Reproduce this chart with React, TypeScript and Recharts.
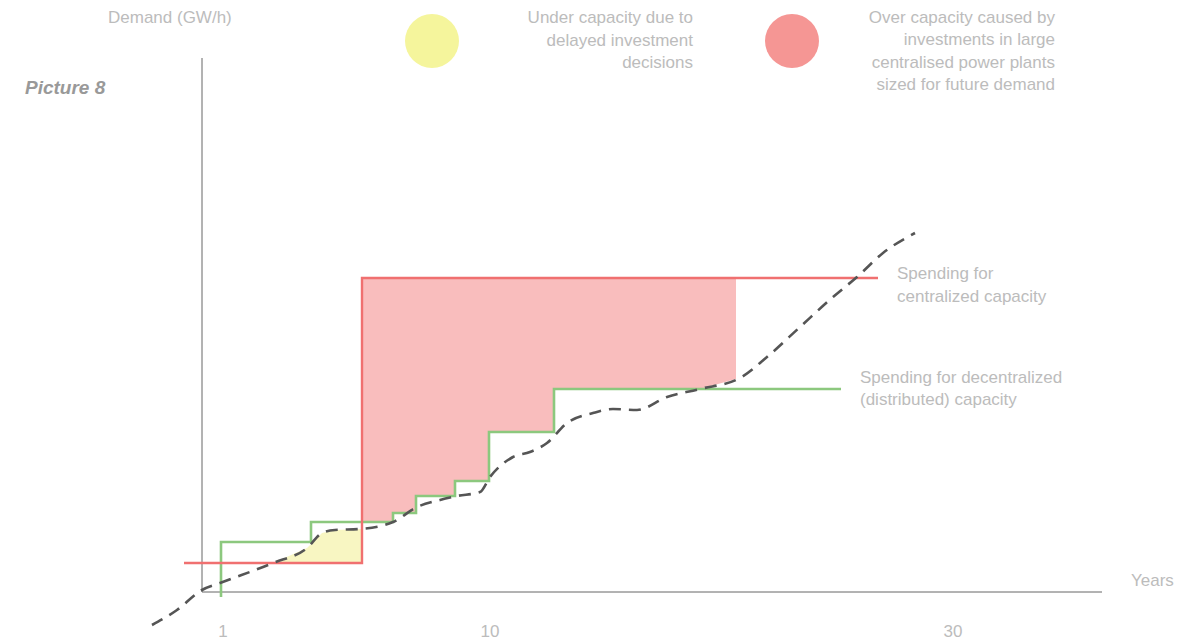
import { ComposedChart, Line, Area, XAxis, YAxis, ReferenceLine } from 'recharts';

// x: time (px/10 from the vertical axis), y: demand (px/10 above the horizontal axis)
const demandX = [-5.0, -2.5, 0, 1.8, 7.1, 10.5, 12.0, 13.3, 15.8, 19.1, 21.5, 23.8, 25.5, 27.8, 28.8, 31.1, 32.8, 34.5, 36.5, 39.1, 41.1, 43.5, 46.5, 49.8, 53.8, 56.5, 59.8, 63.1, 65.5, 68.1, 71.3];
const demandY = [-3.3, -1.8, 0.2, 0.9, 2.9, 4.4, 5.9, 6.2, 6.3, 7.0, 8.5, 9.2, 9.6, 10.0, 11.5, 13.5, 14.0, 14.9, 16.9, 17.9, 18.3, 18.2, 19.5, 20.3, 21.4, 23.5, 26.5, 29.5, 31.5, 33.9, 35.9];

const centralX = [-1.8, 16.0, 67.6];
const centralY = [2.9, 31.4, 31.4];

const decentralX = [1.9, 1.9, 10.9, 19.1, 21.4, 25.3, 28.7, 35.2, 63.9];
const decentralY = [-0.5, 5.0, 7.0, 7.9, 9.6, 11.1, 16.0, 20.3, 20.3];

// over capacity (pink) bottom edge, top is the centralized level
const overX = [16.0, 19.1, 19.1, 21.4, 21.4, 25.3, 25.3, 28.7, 28.7, 35.2, 35.2, 49.8, 53.4];
const overLow = [7.0, 7.0, 7.9, 7.9, 9.6, 9.6, 11.1, 11.1, 16.0, 16.0, 20.3, 20.3, 21.3];

// under capacity (yellow) top edge, bottom is the initial centralized level
const underX = [7.1, 10.5, 12.0, 13.3, 16.0];
const underHigh = [2.9, 4.4, 5.9, 6.2, 6.3];

const tickPos = [2.1, 28.8, 75.1];
const tickLabels = ['1', '10', '30'];

const demand = demandX.map((x, i) => ({ x, y: demandY[i] }));
const central = centralX.map((x, i) => ({ x, y: centralY[i] }));
const decentral = decentralX.map((x, i) => ({ x, y: decentralY[i] }));
const over = overX.map((x, i) => ({ x, range: [overLow[i], 31.4] }));
const under = underX.map((x, i) => ({ x, range: [2.9, underHigh[i]] }));

const GREY = '#bcbcbc';
const FONT = '"Liberation Sans", Arial, sans-serif';

export default function App() {
  return (
    <div style={{ position: 'absolute', left: 0, top: 0, width: 1203, height: 642, fontFamily: FONT }}>
      <ComposedChart width={1203} height={642} margin={{ top: 52, right: 91, bottom: 0, left: 142 }}>
        <XAxis
          type="number"
          dataKey="x"
          domain={[-6, 91]}
          ticks={tickPos}
          tickFormatter={(v: number) => tickLabels[tickPos.indexOf(v)] ?? ''}
          axisLine={false}
          tickLine={false}
          tickSize={0}
          height={14}
          tick={{ fill: GREY, fontSize: 17, fontFamily: FONT, dy: -5 }}
          allowDataOverflow
        />
        <YAxis type="number" domain={[-3.6, 54]} hide allowDataOverflow />
        <ReferenceLine segment={[{ x: 0, y: 0 }, { x: 0, y: 53.4 }]} stroke="#666" strokeWidth={1} ifOverflow="visible" />
        <ReferenceLine segment={[{ x: 0, y: 0 }, { x: 90, y: 0 }]} stroke="#666" strokeWidth={1} ifOverflow="visible" />
        <Area data={over} dataKey="range" type="linear" stroke="none" fill="#f9bdbd" fillOpacity={1} isAnimationActive={false} />
        <Area data={under} dataKey="range" type="linear" stroke="none" fill="#f8f6c2" fillOpacity={1} isAnimationActive={false} />
        <Line data={decentral} dataKey="y" type="stepAfter" stroke="#8cc87e" strokeWidth={2.6} dot={false} isAnimationActive={false} />
        <Line data={central} dataKey="y" type="stepAfter" stroke="#f07070" strokeWidth={2.4} dot={false} isAnimationActive={false} />
        <Line data={demand} dataKey="y" type="monotone" stroke="#555" strokeWidth={2.6} strokeDasharray="12 8" dot={false} isAnimationActive={false} />
      </ComposedChart>
      <svg width={1203} height={642} style={{ position: 'absolute', left: 0, top: 0, pointerEvents: 'none' }}>
        <g fontFamily={FONT} fontSize={17} fill={GREY}>
          <text x={108} y={23}>Demand (GW/h)</text>
          <text x={1131} y={586}>Years</text>
          <text textAnchor="end" x={693}>
            <tspan x={693} y={23}>Under capacity due to</tspan>
            <tspan x={693} y={46}>delayed investment</tspan>
            <tspan x={693} y={68}>decisions</tspan>
          </text>
          <text textAnchor="end" x={1055}>
            <tspan x={1055} y={23}>Over capacity caused by</tspan>
            <tspan x={1055} y={45}>investments in large</tspan>
            <tspan x={1055} y={68}>centralised power plants</tspan>
            <tspan x={1055} y={90}>sized for future demand</tspan>
          </text>
          <text>
            <tspan x={897} y={279}>Spending for</tspan>
            <tspan x={897} y={302}>centralized capacity</tspan>
          </text>
          <text>
            <tspan x={860} y={383}>Spending for decentralized</tspan>
            <tspan x={860} y={405}>(distributed) capacity</tspan>
          </text>
        </g>
        <text x={25} y={94} fontFamily={FONT} fontSize={19} fontStyle="italic" fontWeight="bold" fill="#999">Picture 8</text>
        <circle cx={432} cy={41} r={27} fill="#f5f59c" />
        <circle cx={792} cy={41} r={27} fill="#f59694" />
      </svg>
    </div>
  );
}
